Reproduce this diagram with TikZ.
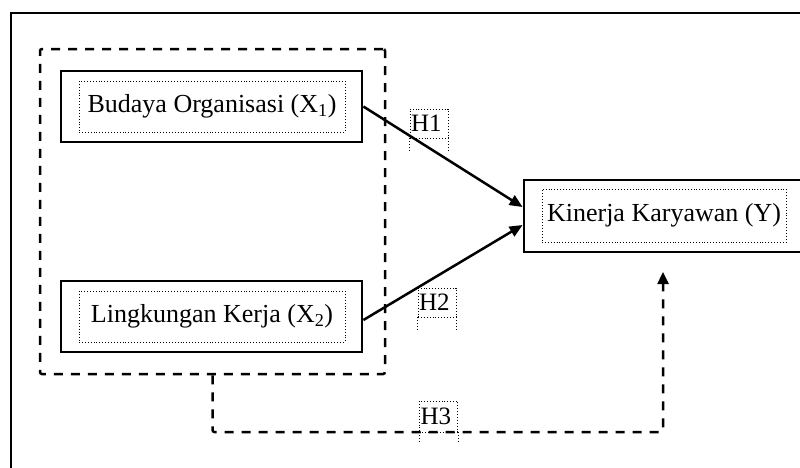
\documentclass[tikz,border=0pt]{standalone}
\usepackage{fontspec}
\setmainfont{Liberation Serif}
\usetikzlibrary{arrows.meta}
\begin{document}
\begin{tikzpicture}[x=1pt,y=-1pt,
  outerbox/.style={draw, line width=2.8pt, minimum height=71pt, inner sep=0pt},
  innerbox/.style={draw, dotted, line width=0.9pt, inner sep=0pt, font=\fontsize{26}{29}\selectfont},
  grpbox/.style={draw, dashed, dash pattern=on 9pt off 8pt, line width=2.5pt, rounded corners=2pt},
  conn/.style={line width=2.5pt, -{Triangle[length=13pt,width=11pt]}},
  dconn/.style={line width=2.5pt, dash pattern=on 9pt off 8pt, rounded corners=2pt, -{Triangle[length=12pt,width=11pt]}},
  hlab/.style={draw, dotted, line width=0.9pt, inner sep=0pt, minimum width=38pt, text width=36pt, align=left, font=\fontsize{25}{27}\selectfont},
  hext/.style={dotted, line width=0.9pt}
]
\useasboundingbox (0,0) rectangle (800,467);
% outer frame
\draw[line width=2.6pt] (11,13) rectangle (840,500);
% group (dashed)
\node[grpbox, minimum width=345pt, minimum height=325pt] (grp) at (212.5,211.5) {};
% X1
\node[outerbox, minimum width=301pt] (x1) at (211.5,106.5) {};
\node[innerbox, minimum width=266pt, minimum height=51pt] (x1i) at (212,106.5) {Budaya Organisasi (X\textsubscript{1})};
% X2
\node[outerbox, minimum width=301pt] (x2) at (211.5,316.5) {};
\node[innerbox, minimum width=266pt, minimum height=51pt] (x2i) at (212,316.5) {Lingkungan Kerja (X\textsubscript{2})};
% Y
\node[outerbox, minimum width=300pt, minimum height=72pt] (y) at (674,216) {};
\node[innerbox, minimum width=244pt, minimum height=53pt] (yi) at (664,215.5) {Kinerja Karyawan (Y)};
% arrows
\draw[conn] ([yshift=0pt]x1.east) -- ([yshift=9pt]y.west);
\draw[conn] ([yshift=-3.5pt]x2.east) -- ([yshift=-9pt]y.west);
\coordinate (h3end) at (663,272);
\draw[dconn] (grp.south) -- (212.5,432) -- (663,432) -- (h3end);
% labels
\node[hlab, minimum height=29pt] (h1) at (429,123.5) {H1};
\draw[hext] (h1.south west) -- ++(0,13);
\draw[hext] (h1.south east) -- ++(0,13);
\node[hlab, minimum height=29pt] (h2) at (437,302.5) {H2};
\draw[hext] (h2.south west) -- ++(0,12);
\draw[hext] (h2.south east) -- ++(0,12);
\node[hlab, minimum height=31pt] (h3) at (438.5,416.5) {H3};
\draw[hext] (h3.south west) -- ++(0,11);
\draw[hext] (h3.south east) -- ++(0,11);
\end{tikzpicture}
\end{document}
